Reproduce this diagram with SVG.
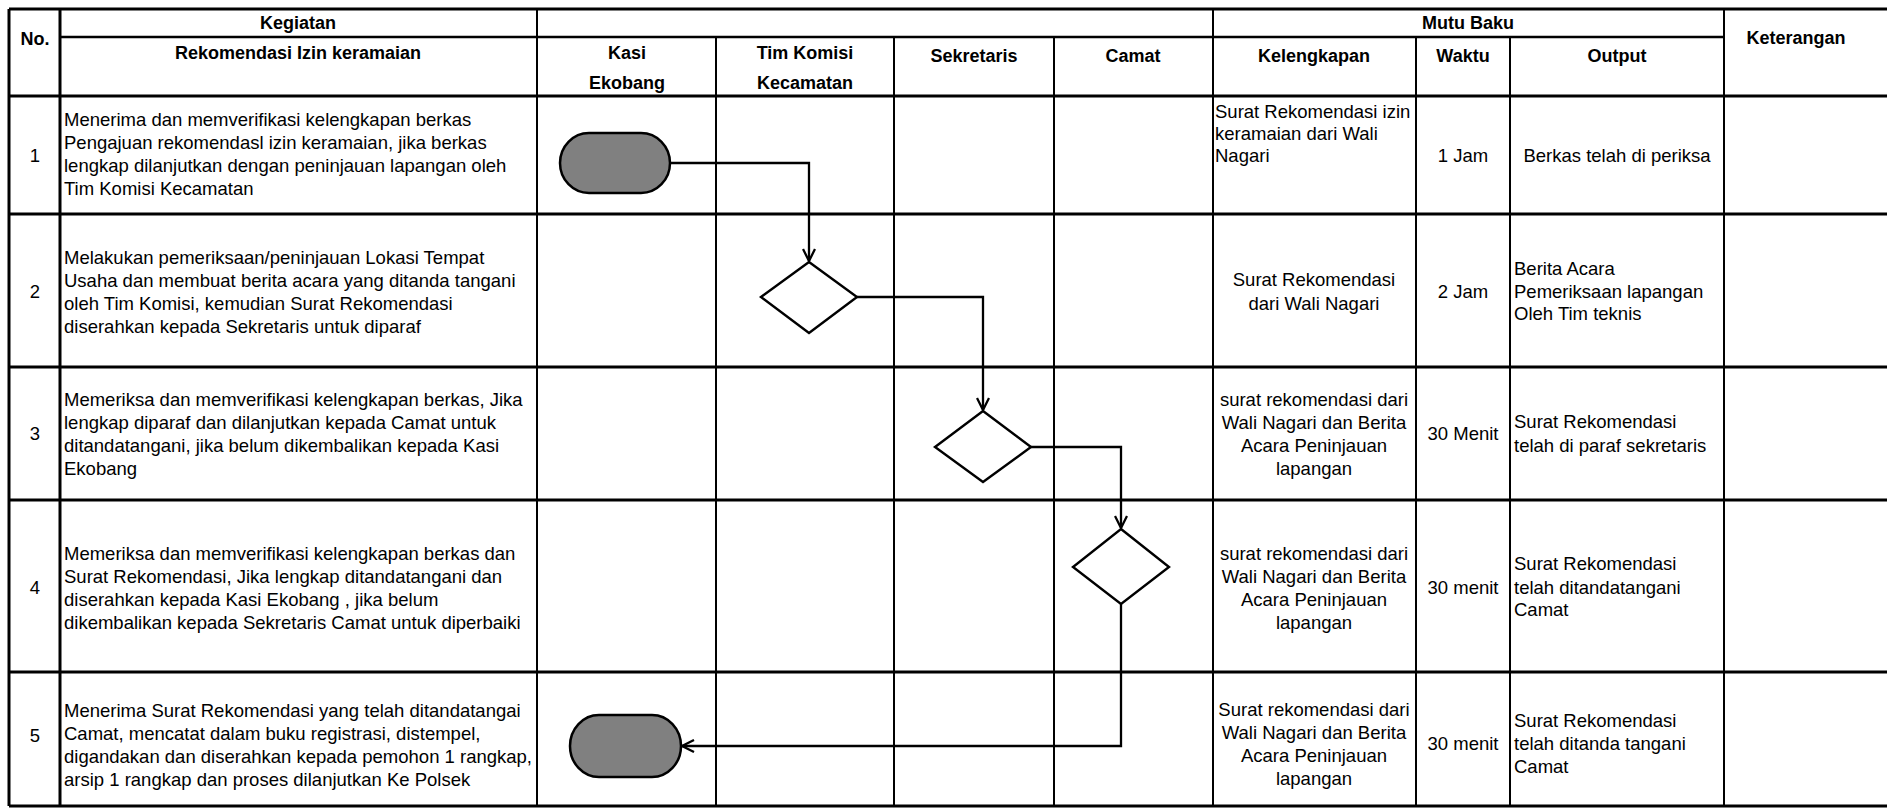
<svg xmlns="http://www.w3.org/2000/svg" width="1887" height="808" viewBox="0 0 1887 808">
<style>
.t{font-family:"Liberation Sans",Arial,sans-serif;font-size:18.5px;fill:#000}
.h{font-family:"Liberation Sans",Arial,sans-serif;font-size:18px;font-weight:bold;fill:#000}
.c{text-anchor:middle}
.hl{stroke:#000;stroke-width:3;fill:none}
.vl{stroke:#000;stroke-width:2;fill:none}
.term{fill:#808080;stroke:#000;stroke-width:2.5}
.dia{fill:#fff;stroke:#000;stroke-width:2.4}
.conn{fill:none;stroke:#000;stroke-width:2.3}
</style>
<defs>
<marker id="arr" viewBox="0 0 14 14" refX="13" refY="7" markerWidth="14" markerHeight="14" markerUnits="userSpaceOnUse" orient="auto">
<path d="M1,1 L13,7 L1,13" fill="none" stroke="#000" stroke-width="2.3"/>
</marker>
</defs>
<rect width="1887" height="808" fill="#fff"/>
<g id="grid">
<line class="hl" x1="9" y1="9" x2="1887" y2="9"/>
<line class="vl" x1="60" y1="37" x2="1724" y2="37" style="stroke-width:2.5"/>
<line class="hl" x1="9" y1="96" x2="1887" y2="96"/>
<line class="hl" x1="9" y1="214" x2="1887" y2="214"/>
<line class="hl" x1="9" y1="367" x2="1887" y2="367"/>
<line class="hl" x1="9" y1="500" x2="1887" y2="500"/>
<line class="hl" x1="9" y1="672" x2="1887" y2="672"/>
<line class="hl" x1="9" y1="806" x2="1887" y2="806"/>
<line class="hl" x1="9" y1="9" x2="9" y2="806"/>
<line class="hl" x1="60" y1="9" x2="60" y2="806"/>
<line class="vl" x1="537" y1="9" x2="537" y2="806"/>
<line class="vl" x1="716" y1="37" x2="716" y2="806"/>
<line class="vl" x1="894" y1="37" x2="894" y2="806"/>
<line class="vl" x1="1054" y1="37" x2="1054" y2="806"/>
<line class="vl" x1="1213" y1="9" x2="1213" y2="806"/>
<line class="vl" x1="1416" y1="37" x2="1416" y2="806"/>
<line class="vl" x1="1510" y1="37" x2="1510" y2="806"/>
<line class="vl" x1="1724" y1="9" x2="1724" y2="806"/>
</g>
<g id="header">
<text class="h c" x="35" y="45">No.</text>
<text class="h c" x="298" y="29">Kegiatan</text>
<text class="h c" x="298" y="59">Rekomendasi Izin keramaian</text>
<text class="h c" x="627" y="59">Kasi</text>
<text class="h c" x="627" y="89">Ekobang</text>
<text class="h c" x="805" y="59">Tim Komisi</text>
<text class="h c" x="805" y="89">Kecamatan</text>
<text class="h c" x="974" y="62">Sekretaris</text>
<text class="h c" x="1133" y="62">Camat</text>
<text class="h c" x="1468" y="29">Mutu Baku</text>
<text class="h c" x="1314" y="62">Kelengkapan</text>
<text class="h c" x="1463" y="62">Waktu</text>
<text class="h c" x="1617" y="62">Output</text>
<text class="h c" x="1796" y="44">Keterangan</text>
</g>
<g id="row1">
<text class="t c" x="35" y="162">1</text>
<text class="t" x="64" y="126">Menerima dan memverifikasi kelengkapan berkas</text>
<text class="t" x="64" y="149">Pengajuan rekomendasl izin keramaian, jika berkas</text>
<text class="t" x="64" y="172">lengkap dilanjutkan dengan peninjauan lapangan oleh</text>
<text class="t" x="64" y="195">Tim Komisi Kecamatan</text>
<text class="t" x="1215" y="118">Surat Rekomendasi izin</text>
<text class="t" x="1215" y="140">keramaian dari Wali</text>
<text class="t" x="1215" y="162">Nagari</text>
<text class="t c" x="1463" y="162">1 Jam</text>
<text class="t c" x="1617" y="162">Berkas telah di periksa</text>
</g>
<g id="row2">
<text class="t c" x="35" y="298">2</text>
<text class="t" x="64" y="264">Melakukan pemeriksaan/peninjauan Lokasi Tempat</text>
<text class="t" x="64" y="287">Usaha dan membuat berita acara yang ditanda tangani</text>
<text class="t" x="64" y="310">oleh Tim Komisi, kemudian Surat Rekomendasi</text>
<text class="t" x="64" y="333">diserahkan kepada Sekretaris untuk diparaf</text>
<text class="t c" x="1314" y="286">Surat Rekomendasi</text>
<text class="t c" x="1314" y="310">dari Wali Nagari</text>
<text class="t c" x="1463" y="298">2 Jam</text>
<text class="t" x="1514" y="275">Berita Acara</text>
<text class="t" x="1514" y="298">Pemeriksaan lapangan</text>
<text class="t" x="1514" y="320">Oleh Tim teknis</text>
</g>
<g id="row3">
<text class="t c" x="35" y="440">3</text>
<text class="t" x="64" y="406">Memeriksa dan memverifikasi kelengkapan berkas, Jika</text>
<text class="t" x="64" y="429">lengkap diparaf dan dilanjutkan kepada Camat untuk</text>
<text class="t" x="64" y="452">ditandatangani, jika belum dikembalikan kepada Kasi</text>
<text class="t" x="64" y="475">Ekobang</text>
<text class="t c" x="1314" y="406">surat rekomendasi dari</text>
<text class="t c" x="1314" y="429">Wali Nagari dan Berita</text>
<text class="t c" x="1314" y="452">Acara Peninjauan</text>
<text class="t c" x="1314" y="475">lapangan</text>
<text class="t c" x="1463" y="440">30 Menit</text>
<text class="t" x="1514" y="428">Surat Rekomendasi</text>
<text class="t" x="1514" y="452">telah di paraf sekretaris</text>
</g>
<g id="row4">
<text class="t c" x="35" y="594">4</text>
<text class="t" x="64" y="560">Memeriksa dan memverifikasi kelengkapan berkas dan</text>
<text class="t" x="64" y="583">Surat Rekomendasi, Jika lengkap ditandatangani dan</text>
<text class="t" x="64" y="606">diserahkan kepada Kasi Ekobang , jika belum</text>
<text class="t" x="64" y="629">dikembalikan kepada Sekretaris Camat untuk diperbaiki</text>
<text class="t c" x="1314" y="560">surat rekomendasi dari</text>
<text class="t c" x="1314" y="583">Wali Nagari dan Berita</text>
<text class="t c" x="1314" y="606">Acara Peninjauan</text>
<text class="t c" x="1314" y="629">lapangan</text>
<text class="t c" x="1463" y="594">30 menit</text>
<text class="t" x="1514" y="570">Surat Rekomendasi</text>
<text class="t" x="1514" y="594">telah ditandatangani</text>
<text class="t" x="1514" y="616">Camat</text>
</g>
<g id="row5">
<text class="t c" x="35" y="742">5</text>
<text class="t" x="64" y="717">Menerima Surat Rekomendasi yang telah ditandatangai</text>
<text class="t" x="64" y="740">Camat, mencatat dalam buku registrasi, distempel,</text>
<text class="t" x="64" y="763">digandakan dan diserahkan kepada pemohon 1 rangkap,</text>
<text class="t" x="64" y="786">arsip 1 rangkap dan proses dilanjutkan Ke Polsek</text>
<text class="t c" x="1314" y="716">Surat rekomendasi dari</text>
<text class="t c" x="1314" y="739">Wali Nagari dan Berita</text>
<text class="t c" x="1314" y="762">Acara Peninjauan</text>
<text class="t c" x="1314" y="785">lapangan</text>
<text class="t c" x="1463" y="750">30 menit</text>
<text class="t" x="1514" y="727">Surat Rekomendasi</text>
<text class="t" x="1514" y="750">telah ditanda tangani</text>
<text class="t" x="1514" y="773">Camat</text>
</g>
<g id="connectors">
<path class="conn" d="M670,163 H809 V261" marker-end="url(#arr)"/>
<path class="conn" d="M857,297 H983 V410" marker-end="url(#arr)"/>
<path class="conn" d="M1031,447 H1121 V528" marker-end="url(#arr)"/>
<path class="conn" d="M1121,604 V746 H682" marker-end="url(#arr)"/>
</g>
<g id="start">
<rect class="term" x="560" y="133" width="110" height="60" rx="29" ry="30"/>
</g>
<g id="decision1">
<polygon class="dia" points="809,262 857,297 809,333 761,297"/>
</g>
<g id="decision2">
<polygon class="dia" points="983,411 1031,447 983,482 935,447"/>
</g>
<g id="decision3">
<polygon class="dia" points="1121,529 1169,567 1121,604 1073,567"/>
</g>
<g id="end">
<rect class="term" x="570" y="715" width="111" height="62" rx="29" ry="31"/>
</g>
</svg>
